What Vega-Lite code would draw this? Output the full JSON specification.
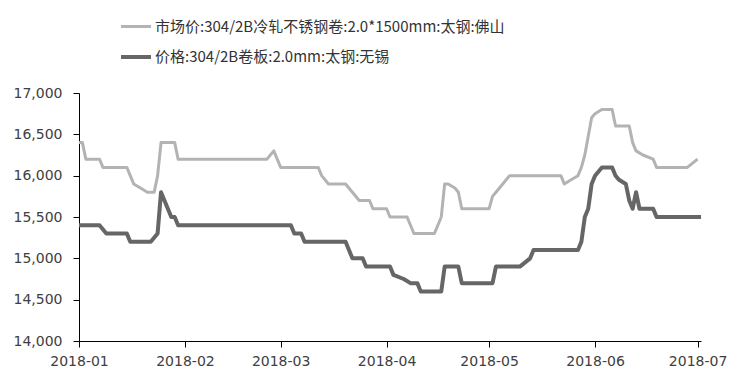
{
  "$schema": "https://vega.github.io/schema/vega-lite/v6.json",
  "width": 622,
  "height": 248,
  "autosize": {"type": "none"},
  "padding": {"left": 79, "top": 93, "right": 32, "bottom": 41},
  "background": "white",
  "config": {"view": {"stroke": null}, "font": "DejaVu Sans"},
  "datasets": {
    "light": [
      {"date": "2018-01-01", "value": 16400}, {"date": "2018-01-02", "value": 16400},
      {"date": "2018-01-03", "value": 16200}, {"date": "2018-01-07", "value": 16200},
      {"date": "2018-01-08", "value": 16100}, {"date": "2018-01-15", "value": 16100},
      {"date": "2018-01-17", "value": 15900}, {"date": "2018-01-19", "value": 15850},
      {"date": "2018-01-21", "value": 15800}, {"date": "2018-01-23", "value": 15800},
      {"date": "2018-01-24", "value": 16000}, {"date": "2018-01-25", "value": 16400},
      {"date": "2018-01-29", "value": 16400}, {"date": "2018-01-30", "value": 16200},
      {"date": "2018-02-25", "value": 16200}, {"date": "2018-02-27", "value": 16300},
      {"date": "2018-03-01", "value": 16100}, {"date": "2018-03-12", "value": 16100},
      {"date": "2018-03-13", "value": 16000}, {"date": "2018-03-15", "value": 15900},
      {"date": "2018-03-20", "value": 15900}, {"date": "2018-03-22", "value": 15800},
      {"date": "2018-03-24", "value": 15700}, {"date": "2018-03-27", "value": 15700},
      {"date": "2018-03-28", "value": 15600}, {"date": "2018-04-01", "value": 15600},
      {"date": "2018-04-02", "value": 15500}, {"date": "2018-04-07", "value": 15500},
      {"date": "2018-04-09", "value": 15300}, {"date": "2018-04-15", "value": 15300},
      {"date": "2018-04-17", "value": 15500}, {"date": "2018-04-18", "value": 15900},
      {"date": "2018-04-19", "value": 15900}, {"date": "2018-04-21", "value": 15850},
      {"date": "2018-04-22", "value": 15800}, {"date": "2018-04-23", "value": 15600},
      {"date": "2018-05-01", "value": 15600}, {"date": "2018-05-02", "value": 15750},
      {"date": "2018-05-03", "value": 15800}, {"date": "2018-05-05", "value": 15900},
      {"date": "2018-05-06", "value": 15950}, {"date": "2018-05-07", "value": 16000},
      {"date": "2018-05-22", "value": 16000}, {"date": "2018-05-23", "value": 15900},
      {"date": "2018-05-25", "value": 15950}, {"date": "2018-05-27", "value": 16000},
      {"date": "2018-05-28", "value": 16100}, {"date": "2018-05-29", "value": 16250},
      {"date": "2018-05-31", "value": 16700}, {"date": "2018-06-01", "value": 16750},
      {"date": "2018-06-03", "value": 16800}, {"date": "2018-06-06", "value": 16800},
      {"date": "2018-06-07", "value": 16600}, {"date": "2018-06-11", "value": 16600},
      {"date": "2018-06-12", "value": 16400}, {"date": "2018-06-13", "value": 16300},
      {"date": "2018-06-15", "value": 16250}, {"date": "2018-06-18", "value": 16200},
      {"date": "2018-06-19", "value": 16100}, {"date": "2018-06-28", "value": 16100},
      {"date": "2018-07-01", "value": 16200}
    ],
    "dark": [
      {"date": "2018-01-01", "value": 15400}, {"date": "2018-01-07", "value": 15400},
      {"date": "2018-01-09", "value": 15300}, {"date": "2018-01-15", "value": 15300},
      {"date": "2018-01-16", "value": 15200}, {"date": "2018-01-22", "value": 15200},
      {"date": "2018-01-24", "value": 15300}, {"date": "2018-01-25", "value": 15800},
      {"date": "2018-01-28", "value": 15500}, {"date": "2018-01-29", "value": 15500},
      {"date": "2018-01-30", "value": 15400}, {"date": "2018-03-04", "value": 15400},
      {"date": "2018-03-05", "value": 15300}, {"date": "2018-03-07", "value": 15300},
      {"date": "2018-03-08", "value": 15200}, {"date": "2018-03-20", "value": 15200},
      {"date": "2018-03-22", "value": 15000}, {"date": "2018-03-25", "value": 15000},
      {"date": "2018-03-26", "value": 14900}, {"date": "2018-04-02", "value": 14900},
      {"date": "2018-04-03", "value": 14800}, {"date": "2018-04-06", "value": 14750},
      {"date": "2018-04-08", "value": 14700}, {"date": "2018-04-10", "value": 14700},
      {"date": "2018-04-11", "value": 14600}, {"date": "2018-04-17", "value": 14600},
      {"date": "2018-04-18", "value": 14900}, {"date": "2018-04-22", "value": 14900},
      {"date": "2018-04-23", "value": 14700}, {"date": "2018-05-02", "value": 14700},
      {"date": "2018-05-03", "value": 14900}, {"date": "2018-05-10", "value": 14900},
      {"date": "2018-05-13", "value": 15000}, {"date": "2018-05-14", "value": 15100},
      {"date": "2018-05-27", "value": 15100}, {"date": "2018-05-28", "value": 15200},
      {"date": "2018-05-29", "value": 15500}, {"date": "2018-05-30", "value": 15600},
      {"date": "2018-05-31", "value": 15900}, {"date": "2018-06-01", "value": 16000},
      {"date": "2018-06-03", "value": 16100}, {"date": "2018-06-06", "value": 16100},
      {"date": "2018-06-07", "value": 16000}, {"date": "2018-06-08", "value": 15950},
      {"date": "2018-06-10", "value": 15900}, {"date": "2018-06-11", "value": 15700},
      {"date": "2018-06-12", "value": 15600}, {"date": "2018-06-13", "value": 15800},
      {"date": "2018-06-14", "value": 15600}, {"date": "2018-06-18", "value": 15600},
      {"date": "2018-06-19", "value": 15500}, {"date": "2018-07-02", "value": 15500}
    ]
  },
  "layer": [
    {
      "data": {"name": "light"},
      "transform": [{"calculate": "'市场价:304/2B冷轧不锈钢卷:2.0*1500mm:太钢:佛山'", "as": "series"}],
      "mark": {"type": "line", "strokeJoin": "round"},
      "encoding": {}
    },
    {
      "data": {"name": "dark"},
      "transform": [{"calculate": "'价格:304/2B卷板:2.0mm:太钢:无锡'", "as": "series"}],
      "mark": {"type": "line", "strokeJoin": "round"},
      "encoding": {}
    }
  ],
  "encoding": {
    "x": {
      "field": "date", "type": "temporal",
      "scale": {"type": "utc", "domain": [{"year": 2018, "month": 1, "date": 1, "utc": true}, {"year": 2018, "month": 7, "date": 2, "utc": true}]},
      "axis": {
        "title": null, "grid": false,
        "labelExpr": "utcFormat(datum.value, '%Y-%m')",
        "values": [
          {"year": 2018, "month": 1, "date": 1, "utc": true},
          {"year": 2018, "month": 2, "date": 1, "utc": true},
          {"year": 2018, "month": 3, "date": 1, "utc": true},
          {"year": 2018, "month": 4, "date": 1, "utc": true},
          {"year": 2018, "month": 5, "date": 1, "utc": true},
          {"year": 2018, "month": 6, "date": 1, "utc": true},
          {"year": 2018, "month": 7, "date": 1, "utc": true}
        ],
        "domainColor": "#000000", "tickColor": "#000000", "tickSize": 6,
        "labelFont": "DejaVu Sans", "labelFontSize": 14, "labelColor": "#404040",
        "labelPadding": 7, "labelFlush": false, "labelOverlap": false
      }
    },
    "y": {
      "field": "value", "type": "quantitative",
      "scale": {"domain": [14000, 17000], "nice": false, "zero": false},
      "axis": {
        "title": null, "grid": false, "format": ",d",
        "values": [14000, 14500, 15000, 15500, 16000, 16500, 17000],
        "domainColor": "#000000", "tickColor": "#000000", "tickSize": 6,
        "labelFont": "DejaVu Sans", "labelFontSize": 14, "labelColor": "#404040",
        "labelPadding": 11
      }
    },
    "color": {
      "field": "series", "type": "nominal",
      "scale": {"domain": ["市场价:304/2B冷轧不锈钢卷:2.0*1500mm:太钢:佛山", "价格:304/2B卷板:2.0mm:太钢:无锡"], "range": ["#b3b3b3", "#666666"]},
      "legend": {
        "title": null, "orient": "none", "legendX": 40, "legendY": -83, "direction": "vertical",
        "symbolType": "stroke", "symbolSize": 900, "padding": 0, "rowPadding": 5,
        "labelFont": "Noto Sans CJK SC", "labelFontSize": 15, "labelColor": "#333333",
        "labelOffset": 2, "labelLimit": 0,
        "symbolStrokeWidth": 4
      }
    },
    "strokeWidth": {
      "field": "series", "type": "nominal",
      "scale": {"domain": ["市场价:304/2B冷轧不锈钢卷:2.0*1500mm:太钢:佛山", "价格:304/2B卷板:2.0mm:太钢:无锡"], "range": [3, 4]},
      "legend": {
        "title": null, "orient": "none", "legendX": 40, "legendY": -83, "direction": "vertical",
        "symbolType": "stroke", "symbolSize": 900, "padding": 0, "rowPadding": 5,
        "labelFont": "Noto Sans CJK SC", "labelFontSize": 15, "labelColor": "#333333",
        "labelOffset": 2, "labelLimit": 0,
        "symbolStrokeWidth": 4
      }
    }
  }
}
